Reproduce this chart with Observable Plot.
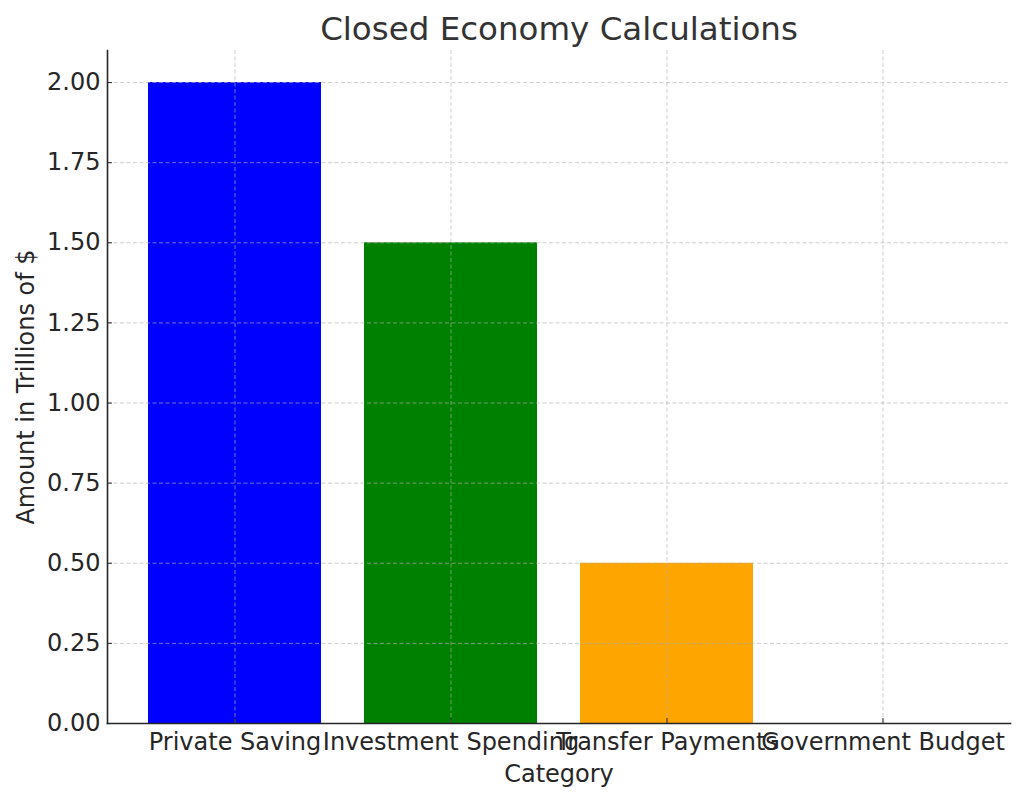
<!DOCTYPE html>
<html>
<head>
<meta charset="utf-8">
<script src="https://cdn.jsdelivr.net/npm/d3@7"></script>
<script src="https://cdn.jsdelivr.net/npm/@observablehq/plot@0.6"></script>
<style>
  html, body { margin: 0; padding: 0; background: #fff; }
  #chart svg { display: block; }
</style>
</head>
<body>
<div id="chart"></div>
<script>
const categories = ["Private Saving", "Investment Spending", "Transfer Payments", "Government Budget"];
const amounts = [2.0, 1.5, 0.5, 0.0];
const barColors = ["#0000ff", "#008000", "#ffa500", "#ff0000"];
const yTicks = [0, 0.25, 0.5, 0.75, 1.0, 1.25, 1.5, 1.75, 2.0];
const titleText = "Closed Economy Calculations";
const xLabel = "Category";
const yLabel = "Amount in Trillions of $";

const data = categories.map((c, i) => ({category: c, amount: amounts[i]}));
const font = "DejaVu Sans, sans-serif";

const chart = Plot.plot({
  width: 1024,
  height: 801,
  marginLeft: 107,
  marginRight: 14,
  marginTop: 50,
  marginBottom: 78,
  style: {fontFamily: font, background: "#fff", color: "#262626"},
  x: {domain: categories, paddingInner: 0.2, paddingOuter: 0.19},
  y: {domain: [0, 2.1]},
  color: {domain: categories, range: barColors},
  marks: [
    Plot.barY(data, {x: "category", y: "amount", fill: "category"}),
    Plot.gridX(categories, {stroke: "#b0b0b0", strokeOpacity: 0.8, strokeDasharray: "4,2.5", strokeWidth: 0.8}),
    Plot.gridY(yTicks, {stroke: "#b0b0b0", strokeOpacity: 0.8, strokeDasharray: "4,2.5", strokeWidth: 0.8}),
    Plot.axisY(yTicks, {
      tickSize: -5, tickPadding: 12, tickFormat: d3.format(".2f"),
      fontSize: 24, stroke: "#262626", fill: "#262626",
      label: yLabel, labelAnchor: "center", labelOffset: 91, labelArrow: "none"
    }),
    Plot.axisX({
      tickSize: -5, tickPadding: 14, fontSize: 24,
      stroke: "#262626", fill: "#262626",
      label: xLabel, labelAnchor: "center", labelOffset: 58, labelArrow: "none"
    }),
    Plot.frame({anchor: "left", stroke: "#262626", strokeWidth: 1.6}),
    Plot.frame({anchor: "bottom", stroke: "#262626", strokeWidth: 1.6}),
    Plot.text([titleText], {frameAnchor: "top", dy: -34, fontSize: 32.5, fill: "#333333", fontFamily: font})
  ]
});
document.getElementById("chart").appendChild(chart);
</script>
</body>
</html>
